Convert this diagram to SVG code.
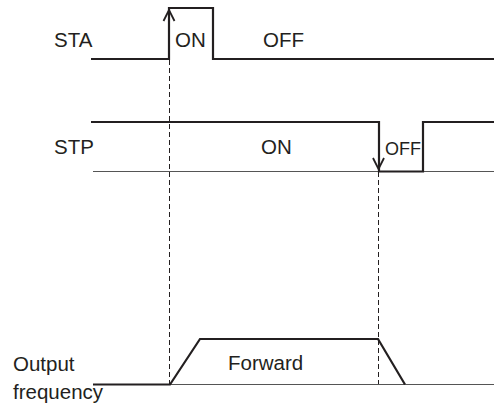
<svg xmlns="http://www.w3.org/2000/svg" width="494" height="411" viewBox="0 0 494 411">
  <style>
    .lbl { font-family: "Liberation Sans", Arial, sans-serif; font-size: 20.5px; fill: #231f20; }
    .thick { fill: none; stroke: #231f20; stroke-width: 2.2; stroke-linejoin: miter; }
    .thin { fill: none; stroke: #555; stroke-width: 1; }
    .arrow { fill: none; stroke: #231f20; stroke-width: 1.8; }
    .dash { fill: none; stroke: #231f20; stroke-width: 1; stroke-dasharray: 5 3; }
  </style>
  <rect width="494" height="411" fill="#fff"/>
  <g id="connectors">
    <line class="dash" x1="169.5" y1="60" x2="169.5" y2="385"/>
    <line class="dash" x1="378.5" y1="172" x2="378.5" y2="385"/>
  </g>
  <g id="sta">
    <text class="lbl" x="54" y="46.5">STA</text>
    <polyline class="thick" points="91,59 169,59 169,8 213,8 213,59 494,59"/>
    <polyline class="arrow" points="163.5,21 169,10 174.5,21"/>
    <text class="lbl" x="175" y="46.5">ON</text>
    <text class="lbl" x="263" y="46.5">OFF</text>
  </g>
  <g id="stp">
    <text class="lbl" x="54" y="153.5">STP</text>
    <line class="thin" x1="93" y1="171.5" x2="494" y2="171.5"/>
    <polyline class="thick" points="91,122 379,122 379,171.5 423,171.5 423,122 494,122"/>
    <polyline class="arrow" points="373,158 378.5,169 384,158"/>
    <text class="lbl" x="385" y="155" style="font-size:19px" textLength="36" lengthAdjust="spacingAndGlyphs">OFF</text>
    <text class="lbl" x="261" y="153.5">ON</text>
  </g>
  <g id="output">
    <text class="lbl" x="13" y="371">Output</text>
    <text class="lbl" x="13" y="399">frequency</text>
    <line class="thin" x1="170" y1="384.5" x2="494" y2="384.5"/>
    <polyline class="thick" points="93,384.5 170,384.5 200,339 378,339 405,384.5"/>
    <text class="lbl" x="228" y="369.5">Forward</text>
  </g>
</svg>
